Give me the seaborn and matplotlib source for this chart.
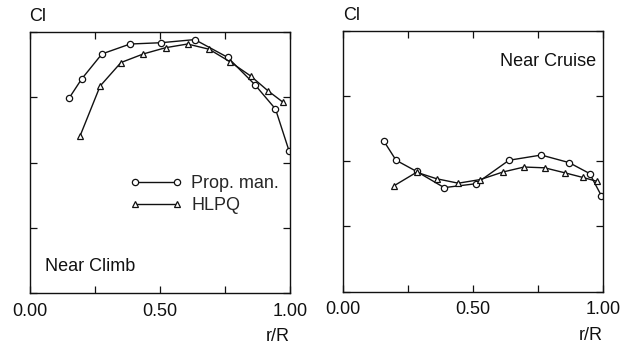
import matplotlib
matplotlib.use("Agg")
import matplotlib.pyplot as plt
import seaborn as sns
import pandas as pd
from matplotlib.ticker import MultipleLocator

# Near Climb
climb_pm_r = [0.152, 0.200, 0.278, 0.386, 0.505, 0.635, 0.761, 0.866, 0.945, 0.997]
climb_pm_cl = [0.747, 0.820, 0.916, 0.954, 0.959, 0.971, 0.903, 0.798, 0.705, 0.545]
climb_hl_r = [0.194, 0.271, 0.351, 0.437, 0.523, 0.607, 0.690, 0.770, 0.849, 0.917, 0.974]
climb_hl_cl = [0.602, 0.793, 0.883, 0.916, 0.940, 0.954, 0.934, 0.886, 0.832, 0.774, 0.731]

# Near Cruise
cruise_pm_r = [0.159, 0.205, 0.284, 0.390, 0.512, 0.639, 0.763, 0.870, 0.949, 0.994]
cruise_pm_cl = [0.576, 0.504, 0.461, 0.399, 0.414, 0.504, 0.524, 0.495, 0.453, 0.368]
cruise_hl_r = [0.197, 0.284, 0.361, 0.444, 0.529, 0.616, 0.697, 0.776, 0.853, 0.923, 0.978]
cruise_hl_cl = [0.406, 0.458, 0.433, 0.416, 0.430, 0.459, 0.478, 0.475, 0.456, 0.438, 0.423]

series_names = ["Prop. man.", "HLPQ"]
panel_titles = ["Near Climb", "Near Cruise"]
xtick_vals = [0.0, 0.5, 1.0]
xtick_labels = ["0.00", "0.50", "1.00"]

sns.set_theme(style="white")
plt.rcParams['font.family'] = ['Liberation Sans', 'DejaVu Sans']

fig = plt.figure(figsize=(6.3, 3.48), dpi=100)
ax1 = fig.add_axes([0.047, 0.158, 0.413, 0.750])
ax2 = fig.add_axes([0.544, 0.162, 0.413, 0.749])

data = [
    ((climb_pm_r, climb_pm_cl), (climb_hl_r, climb_hl_cl)),
    ((cruise_pm_r, cruise_pm_cl), (cruise_hl_r, cruise_hl_cl)),
]
markers = ["o", "^"]

for ax, (pm, hl) in zip([ax1, ax2], data):
    for (r, cl), m, name in zip([pm, hl], markers, series_names):
        df = pd.DataFrame({"r": r, "cl": cl})
        sns.lineplot(data=df, x="r", y="cl", ax=ax, color="#111111", lw=1.0,
                     marker=m, markersize=4.5, markerfacecolor="white",
                     markeredgecolor="#111111", markeredgewidth=0.9,
                     label=name, legend=False)
    ax.set_xlim(0, 1)
    ax.set_ylim(0, 1)
    ax.set_xticks(xtick_vals)
    ax.set_xticklabels(xtick_labels, fontsize=13)
    ax.xaxis.set_minor_locator(MultipleLocator(0.25))
    ax.yaxis.set_major_locator(MultipleLocator(0.25))
    ax.set_yticklabels([])
    ax.tick_params(which="both", direction="in", top=True, right=True,
                   bottom=True, left=True, length=5, width=0.9, color="#111111",
                   pad=7, labelcolor="#111111")
    ax.set_xlabel("")
    ax.set_ylabel("")
    for s in ax.spines.values():
        s.set_color("#111111")
        s.set_linewidth(1.0)
    ax.text(0.0, 1.025, "Cl", transform=ax.transAxes, fontsize=13,
            ha="left", va="bottom", color="#111111")
    ax.text(1.0, -0.135, "r/R", transform=ax.transAxes, fontsize=13,
            ha="right", va="top", color="#111111")

ax1.text(0.06, 0.07, panel_titles[0], transform=ax1.transAxes, fontsize=13,
         ha="left", va="bottom", color="#111111")
ax2.text(0.975, 0.85, panel_titles[1], transform=ax2.transAxes, fontsize=13,
         ha="right", va="bottom", color="#111111")

h, l = ax1.get_legend_handles_labels()
ax1.legend(h, l, loc="upper left", bbox_to_anchor=(0.355, 0.48), frameon=False,
           fontsize=13, numpoints=2, handlelength=2.95, handletextpad=0.5,
           labelspacing=0.3, borderaxespad=0)

fig.savefig("out.png", dpi=100)
